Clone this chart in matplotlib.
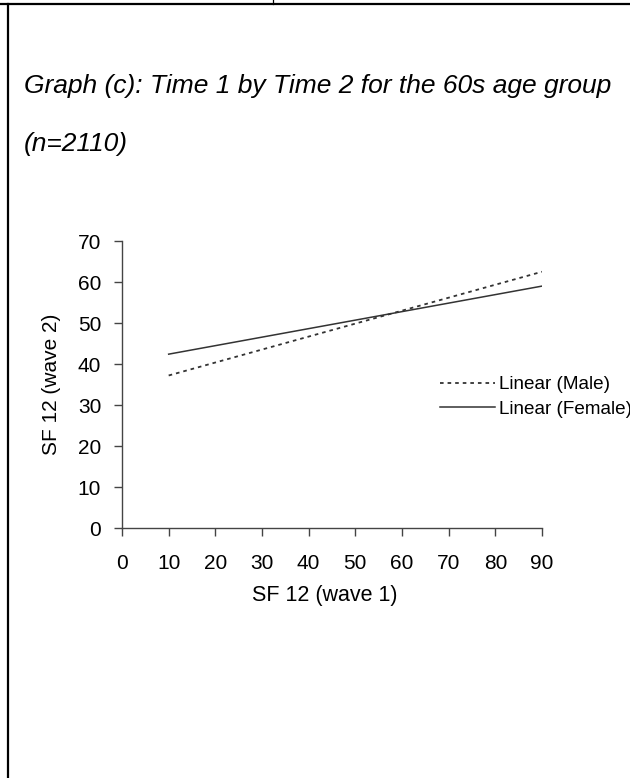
import matplotlib
matplotlib.use("Agg")
import matplotlib.pyplot as plt
from matplotlib.lines import Line2D

plt.rcParams['font.family'] = ['Liberation Sans', 'DejaVu Sans']

# Data (trend line endpoints)
x_vals = [10, 90]
male_vals = [37.2, 62.5]
female_vals = [42.4, 59.0]
series_labels = ["Linear (Male)", "Linear (Female)"]
x_ticks = [0, 10, 20, 30, 40, 50, 60, 70, 80, 90]
y_ticks = [0, 10, 20, 30, 40, 50, 60, 70]
title_line1 = "Graph (c): Time 1 by Time 2 for the 60s age group"
title_line2 = "(n=2110)"
x_label = "SF 12 (wave 1)"
y_label = "SF 12 (wave 2)"

W, H = 630, 778
fig = plt.figure(figsize=(W / 100, H / 100), dpi=100)

# page borders (table cell look)
fig.add_artist(Line2D([0, 1], [1 - 3.8 / H, 1 - 3.8 / H], transform=fig.transFigure,
                      color='black', lw=1.6))
fig.add_artist(Line2D([7.5 / W, 7.5 / W], [0, 1 - 3.8 / H], transform=fig.transFigure,
                      color='black', lw=1.6))
fig.add_artist(Line2D([272.5 / W, 272.5 / W], [1 - 3.8 / H, 1], transform=fig.transFigure,
                      color='black', lw=0.9))

fig.text(24 / W, 1 - 93 / H, title_line1, fontsize=19, style='italic',
         ha='left', va='baseline')
fig.text(24 / W, 1 - 151 / H, title_line2, fontsize=19, style='italic',
         ha='left', va='baseline')

ax = fig.add_axes([122 / W, 1 - 528 / H, 420 / W, 287 / H])
ax.plot(x_vals, male_vals, color='#333333', lw=1.3, linestyle=(0, (2.0, 2.2)),
        label=series_labels[0])
ax.plot(x_vals, female_vals, color='#333333', lw=1.1, linestyle='-',
        label=series_labels[1])

ax.set_xlim(0, 90)
ax.set_ylim(0, 70)
ax.set_xticks(x_ticks)
ax.set_yticks(y_ticks)
for s in ['top', 'right']:
    ax.spines[s].set_visible(False)
for s in ['left', 'bottom']:
    ax.spines[s].set_color('#444444')
    ax.spines[s].set_linewidth(1.0)
ax.tick_params(axis='both', direction='out', length=6, width=1.0, color='#444444',
               labelsize=15)
ax.tick_params(axis='x', pad=13)
ax.tick_params(axis='y', pad=9)
ax.set_xlabel(x_label, fontsize=15.5)
ax.set_ylabel(y_label, fontsize=15)
ax.xaxis.set_label_coords(0.483, -0.2)
ax.yaxis.set_label_coords(-0.145, 0.5)

fig.legend(loc='upper left', bbox_to_anchor=(440 / W, 1 - 376 / H),
           frameon=False, fontsize=13.6, handlelength=2.9, handletextpad=0.2,
           labelspacing=0.4, borderpad=0, borderaxespad=0)

fig.savefig("out.png", dpi=100)
